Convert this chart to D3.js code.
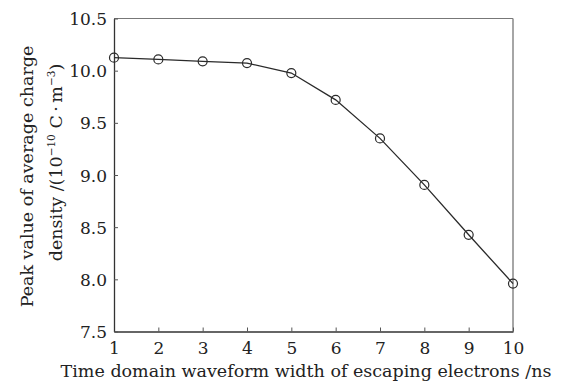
<!DOCTYPE html>
<html><head><meta charset="utf-8">
<script src="https://cdn.jsdelivr.net/npm/d3@7"></script>
<style>body{margin:0;background:#fff}svg{display:block}text{font-family:"DejaVu Serif",serif;fill:#222}</style>
</head><body><svg id="c" width="565" height="382"></svg>
<script>
const widths = [1,2,3,4,5,6,7,8,9,10];
const peakDensity = [10.125,10.108,10.09,10.073,9.977,9.72,9.351,8.905,8.427,7.959];
const xTicks = [1,2,3,4,5,6,7,8,9,10];
const yTicks = [7.5,8.0,8.5,9.0,9.5,10.0,10.5];
const xTitle = "Time domain waveform width of escaping electrons /ns";

const svg = d3.select("#c");
const L=114,R=513,T=18.5,B=331.5;
const x = d3.scaleLinear().domain([1,10]).range([L,R]);
const y = d3.scaleLinear().domain([7.5,10.5]).range([B,T]);

// frame
svg.append("line").attr("x1",L).attr("x2",R).attr("y1",T).attr("y2",T).attr("stroke","#777").attr("stroke-width",1.2);
svg.append("line").attr("x1",R).attr("x2",R).attr("y1",T).attr("y2",B).attr("stroke","#888").attr("stroke-width",1.5);

const xa = svg.append("g").attr("transform",`translate(0,${B})`)
  .call(d3.axisBottom(x).tickValues(xTicks).tickSizeInner(-4).tickSizeOuter(0).tickPadding(10).tickFormat(d3.format("d")));
const ya = svg.append("g").attr("transform",`translate(${L},0)`)
  .call(d3.axisLeft(y).tickValues(yTicks).tickSizeInner(-4).tickSizeOuter(0).tickPadding(7).tickFormat(d3.format(".1f")));
[xa,ya].forEach(g=>{
  g.attr("font-family","DejaVu Serif");
  g.select(".domain").attr("stroke","#333").attr("stroke-width",1.3);
  g.selectAll(".tick line").attr("stroke","#555");
  g.selectAll(".tick text").attr("font-size",17).attr("fill","#222");
});
xa.selectAll(".tick text").attr("dy","0.71em");
ya.selectAll(".tick text").attr("dy","0.36em");

// line
const pts = widths.map((w,i)=>[w,peakDensity[i]]);
svg.append("path").datum(pts)
  .attr("fill","none").attr("stroke","#2a2a2a").attr("stroke-width",1.3)
  .attr("d",d3.line().x(d=>x(d[0])).y(d=>y(d[1])));
svg.selectAll("circle.m").data(pts).enter().append("circle")
  .attr("cx",d=>x(d[0])).attr("cy",d=>y(d[1])).attr("r",4.5)
  .attr("fill","none").attr("stroke","#2a2a2a").attr("stroke-width",1.2);

// titles
svg.append("text").attr("x",306).attr("y",377).attr("text-anchor","middle").attr("font-size",17.5).text(xTitle);
svg.append("text").attr("transform","translate(33,176.5) rotate(-90)").attr("text-anchor","middle").attr("font-size",17.5)
  .text("Peak value of average charge");
const t2 = svg.append("text").attr("transform","translate(62,162.5) rotate(-90)").attr("text-anchor","middle").attr("font-size",17.5);
t2.append("tspan").text("density /(10");
t2.append("tspan").attr("font-size",10.5).attr("dy",-7).text("\u221210");
t2.append("tspan").attr("dy",7).text(" C\u2009\u00b7\u2009m");
t2.append("tspan").attr("font-size",10.5).attr("dy",-7).text("\u22123");
t2.append("tspan").attr("dy",7).text(")");
</script></body></html>
